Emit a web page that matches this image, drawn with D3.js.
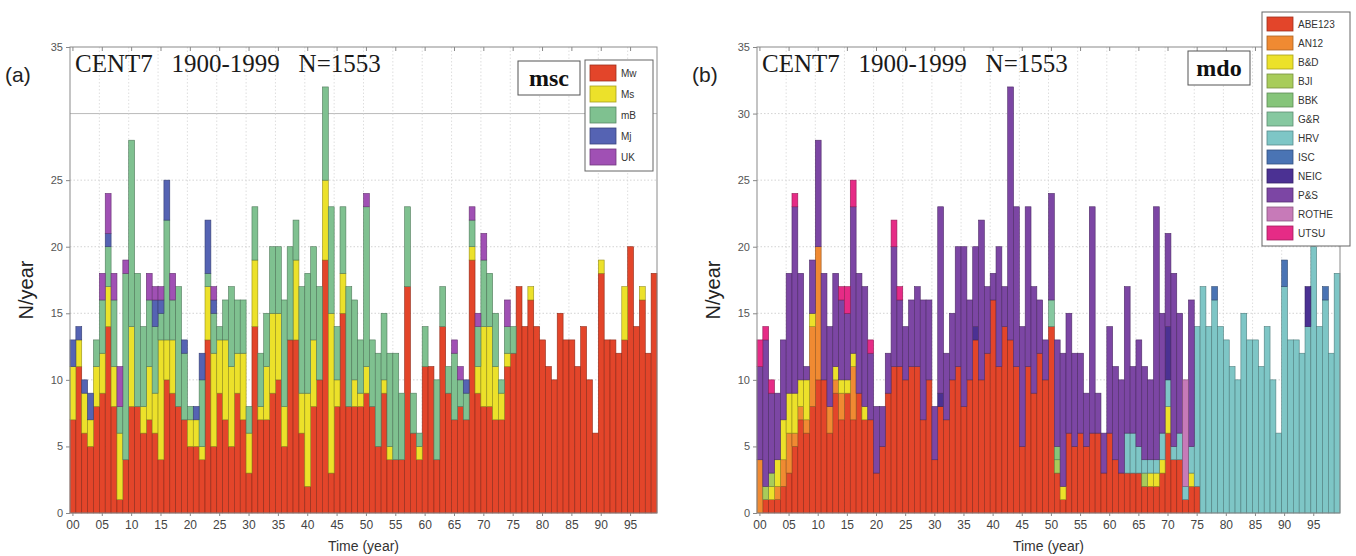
<!DOCTYPE html>
<html><head><meta charset="utf-8">
<script src="https://cdn.jsdelivr.net/npm/d3@7"></script>
<style>body{margin:0;background:#fff}svg{display:block}</style>
</head><body>
<svg id="chart" width="1356" height="556"></svg>
<script>
const years = d3.range(0, 100);
const xTickYears = [0,5,10,15,20,25,30,35,40,45,50,55,60,65,70,75,80,85,90,95];
const yTicksA = [0,5,10,15,20,25,35];
const yTicksB = [0,5,10,15,20,25,30,35];

// Panel (a) msc
const Mw = [7,11,6,5,8,9,14,8,1,4, 8,8,6,7,6,4,10,9,8,7, 5,5,4,13,5,9,7,5,9,7, 3,14,7,7,9,10,5,13,13,6, 2,8,10,19,3,8,15,8,8,8, 9,8,5,9,4,4,4,17,6,4, 11,11,4,14,9,7,8,7,19,9, 8,8,7,7,11,12,17,14,16,14, 13,11,10,15,13,13,11,14,10,6, 18,13,13,12,13,20,14,16,12,18];
const Ms = [4,2,3,2,3,3,3,3,5,0, 6,0,2,4,3,9,3,4,0,0, 2,2,1,4,7,4,6,6,3,5, 3,5,1,4,6,5,3,0,6,3, 7,5,0,6,12,2,3,0,2,1, 2,0,0,1,1,0,0,0,0,1, 0,0,0,0,0,0,0,0,1,2, 6,6,4,2,1,0,0,0,1,0, 0,0,0,0,0,0,0,0,0,0, 1,0,0,0,4,0,0,1,0,0];
const mB = [0,0,0,0,2,4,3,5,2,14, 14,10,6,5,5,2,9,3,9,5, 1,0,5,1,3,1,3,6,4,4, 2,4,4,4,5,5,8,7,3,8, 9,7,7,7,8,4,5,9,6,4, 12,5,7,5,7,8,5,6,3,1, 3,0,6,3,2,5,2,2,2,3, 5,4,4,1,2,2,0,0,0,0, 0,0,0,0,0,0,0,0,0,0, 0,0,0,0,0,0,0,0,0,0];
const Mj = [2,1,1,2,0,0,1,0,0,0, 0,0,0,0,2,1,3,0,0,1, 0,1,2,4,1,0,0,0,0,0, 0,0,0,0,0,0,0,0,0,0, 0,0,0,0,0,0,0,0,0,0, 0,0,0,0,0,0,0,0,0,0, 0,0,0,0,0,0,0,1,0,0, 0,0,0,0,0,0,0,0,0,0, 0,0,0,0,0,0,0,0,0,0, 0,0,0,0,0,0,0,0,0,0];
const UK = [0,0,0,0,0,2,3,2,3,1, 0,0,0,2,1,1,0,2,0,0, 0,0,0,0,1,0,0,0,0,0, 0,0,0,0,0,0,0,0,0,0, 0,0,0,0,0,0,0,0,0,0, 1,0,0,0,0,0,0,0,0,0, 0,0,0,0,0,1,1,0,1,1, 2,0,0,0,2,0,0,0,0,0, 0,0,0,0,0,0,0,0,0,0, 0,0,0,0,0,0,0,0,0,0];

// Panel (b) mdo
const ABE123 = [0,1,1,1,2,3,5,7,6,8, 10,10,6,9,7,9,7,9,7,7, 3,5,9,11,11,10,11,11,7,10, 4,8,7,10,11,8,10,13,10,12, 16,11,14,13,11,5,11,9,12,10, 14,3,1,6,5,6,5,6,6,3, 6,4,3,3,3,3,2,2,2,3, 6,4,4,1,2,2,0,0,0,0, 0,0,0,0,0,0,0,0,0,0, 0,0,0,0,0,0,0,0,0,0];
const AN12 = [4,0,0,1,2,3,1,1,1,6, 10,0,2,1,2,0,4,0,0,0, 0,0,0,0,0,0,0,0,0,0, 0,0,0,0,0,0,0,0,0,0, 0,0,0,0,0,0,0,0,0,0, 0,0,0,0,0,0,0,0,0,0, 0,0,0,0,0,0,0,0,0,0, 0,0,0,0,0,0,0,0,0,0, 0,0,0,0,0,0,0,0,0,0, 0,0,0,0,0,0,0,0,0,0];
const BD = [0,0,1,2,3,3,3,2,3,1, 0,0,0,1,1,1,1,0,1,0, 0,0,0,0,0,0,0,0,0,0, 0,0,0,0,0,0,0,0,0,0, 0,0,0,0,0,0,0,0,0,0, 0,0,1,0,0,0,0,0,0,0, 0,0,0,0,0,0,0,1,1,1, 2,0,0,0,1,0,0,0,0,0, 0,0,0,0,0,0,0,0,0,0, 0,0,0,0,0,0,0,0,0,0];
const BJI = [0,1,1,0,0,0,0,0,0,0, 0,0,0,0,0,0,0,0,0,0, 0,0,0,0,0,0,0,0,0,0, 0,0,0,0,0,0,0,0,0,0, 0,0,0,0,0,0,0,0,0,0, 0,1,0,0,0,0,0,0,0,0, 0,0,0,0,0,0,1,0,0,0, 0,0,0,0,0,0,0,0,0,0, 0,0,0,0,0,0,0,0,0,0, 0,0,0,0,0,0,0,0,0,0];
const BBK = [0,0,0,0,0,0,0,0,0,0, 0,0,0,0,0,0,0,0,0,0, 0,0,0,0,0,0,0,0,0,0, 0,0,0,0,0,0,0,0,0,0, 0,0,0,0,0,0,0,0,0,0, 0,1,0,0,0,0,0,0,0,0, 0,0,0,0,0,0,0,0,0,0, 0,0,0,0,0,0,0,0,0,0, 0,0,0,0,0,0,0,0,0,0, 0,0,0,0,0,0,0,0,0,0];
const GR = [0,0,0,0,0,0,0,0,0,0, 0,0,0,0,0,0,0,0,0,0, 0,0,0,0,0,0,0,0,0,0, 0,0,0,0,0,0,0,0,0,0, 0,0,0,0,0,0,0,0,0,0, 2,0,0,0,0,0,0,0,0,0, 0,0,0,0,0,0,0,0,0,0, 0,0,0,0,0,0,0,0,0,0, 0,0,0,0,0,0,0,0,0,0, 0,0,0,0,0,0,0,0,0,0];
const HRV = [0,0,0,0,0,0,0,0,0,0, 0,0,0,0,0,0,0,0,0,0, 0,0,0,0,0,0,0,0,0,0, 0,0,0,0,0,0,0,0,0,0, 0,0,0,0,0,0,0,0,0,0, 0,0,0,0,0,0,0,0,0,0, 0,0,0,3,3,2,1,1,1,2, 2,1,2,1,2,12,17,14,16,14, 13,11,10,15,13,13,11,14,10,6, 17,13,13,12,14,20,14,16,12,18];
const ISC = [0,0,0,0,0,0,0,0,0,0, 0,0,0,0,0,0,0,0,0,0, 0,0,0,0,0,0,0,0,0,0, 0,0,0,0,0,0,0,0,0,0, 0,0,0,0,0,0,0,0,0,0, 0,0,0,0,0,0,0,0,0,0, 0,0,0,0,0,0,0,0,0,0, 0,0,0,0,0,0,0,0,1,0, 0,0,0,0,0,0,0,0,0,0, 2,0,0,0,0,0,0,1,0,0];
const NEIC = [0,0,0,0,0,0,0,0,0,0, 0,0,0,0,0,0,0,0,0,0, 0,0,0,0,0,0,0,0,0,0, 0,1,0,0,0,0,0,1,0,0, 0,0,0,0,0,0,0,0,0,0, 0,0,0,0,0,0,0,0,0,0, 0,0,0,0,0,0,0,0,0,0, 4,0,0,0,0,0,0,0,0,0, 0,0,0,0,0,0,0,0,0,0, 0,0,0,0,3,0,0,0,0,0];
const PS = [7,11,6,5,6,9,14,8,1,4, 8,8,6,7,6,5,11,9,9,5, 5,3,3,9,5,4,5,6,9,6, 4,14,5,5,9,12,6,6,12,5, 2,9,3,19,12,9,12,8,4,3, 8,8,10,9,7,6,4,17,3,3, 8,7,7,11,5,8,7,6,19,9, 7,13,9,0,11,0,0,0,0,0, 0,0,0,0,0,0,0,0,0,0, 0,0,0,0,0,0,0,0,0,0];
const ROTHE = [0,0,0,0,0,0,0,0,0,0, 0,0,0,0,0,0,0,0,0,0, 0,0,0,0,0,0,0,0,0,0, 0,0,0,0,0,0,0,0,0,0, 0,0,0,0,0,0,0,0,0,0, 0,0,0,0,0,0,0,0,0,0, 0,0,0,0,0,0,0,0,0,0, 0,0,0,8,0,0,0,0,0,0, 0,0,0,0,0,0,0,0,0,0, 0,0,0,0,0,0,0,0,0,0];
const UTSU = [2,1,1,0,0,0,1,0,0,0, 0,0,0,0,1,2,2,0,0,1, 0,0,0,2,1,0,0,0,0,0, 0,0,0,0,0,0,0,0,0,0, 0,0,0,0,0,0,0,0,0,0, 0,0,0,0,0,0,0,0,0,0, 0,0,0,0,0,0,0,0,0,0, 0,0,0,0,0,0,0,0,0,0, 0,0,0,0,0,0,0,0,0,0, 0,0,0,0,0,0,0,0,0,0];

const seriesA = [
  {key:"Mw", vals:Mw, color:"#e3452a"},
  {key:"Ms", vals:Ms, color:"#ece12a"},
  {key:"mB", vals:mB, color:"#7fc190"},
  {key:"Mj", vals:Mj, color:"#5563b3"},
  {key:"UK", vals:UK, color:"#a050b4"}
];
const seriesB = [
  {key:"ABE123", vals:ABE123, color:"#e3452a"},
  {key:"AN12", vals:AN12, color:"#f08a32"},
  {key:"B&D", vals:BD, color:"#ece12a"},
  {key:"BJI", vals:BJI, color:"#a8cc5a"},
  {key:"BBK", vals:BBK, color:"#86c57a"},
  {key:"G&R", vals:GR, color:"#86c8a0"},
  {key:"HRV", vals:HRV, color:"#7ec6c6"},
  {key:"ISC", vals:ISC, color:"#4a74b4"},
  {key:"NEIC", vals:NEIC, color:"#4b3193"},
  {key:"P&S", vals:PS, color:"#7c46a4"},
  {key:"ROTHE", vals:ROTHE, color:"#c77ab8"},
  {key:"UTSU", vals:UTSU, color:"#e62b86"}
];

const svg = d3.select("#chart");
const H_TOP = 47, H_BOT = 513;

function panel(opts) {
  const {left, right, series, yTicks, tag, boxText, legend} = opts;
  const g = svg.append("g");
  const x = d3.scaleBand().domain(years).range([left, right]).paddingInner(0).paddingOuter(0);
  const y = d3.scaleLinear().domain([0, 35]).range([H_BOT, H_TOP]);

  // grid
  g.append("g").selectAll("line").data([5,10,15,20,25,30]).join("line")
    .attr("x1", left).attr("x2", right).attr("y1", d=>y(d)).attr("y2", d=>y(d))
    .attr("stroke", d => d===30 && tag==="(a)" ? "#aaa" : "#c8c8c8")
    .attr("stroke-dasharray", d => d===30 && tag==="(a)" ? null : "1.5,2")
    .attr("stroke-width", 0.8);
  g.append("g").selectAll("line").data(xTickYears.slice(1)).join("line")
    .attr("x1", d=>x(d)).attr("x2", d=>x(d)).attr("y1", H_TOP).attr("y2", H_BOT)
    .attr("stroke", "#d6d6d6").attr("stroke-dasharray", "1.5,2").attr("stroke-width", 0.8);

  // stacked bars
  const rows = years.map(yr => {
    const r = {year: yr};
    series.forEach(s => r[s.key] = s.vals[yr]);
    return r;
  });
  const stack = d3.stack().keys(series.map(s=>s.key))(rows);
  stack.forEach((layer, i) => {
    const col = series[i].color;
    g.append("g").selectAll("rect").data(layer.filter(d => d[1] > d[0])).join("rect")
      .attr("x", d => x(d.data.year))
      .attr("width", x.bandwidth())
      .attr("y", d => y(d[1]))
      .attr("height", d => y(d[0]) - y(d[1]))
      .attr("fill", col)
      .attr("stroke", d3.color(col).darker(1.3))
      .attr("stroke-width", 0.6);
  });

  // frame
  g.append("rect").attr("x", left).attr("y", H_TOP).attr("width", right-left).attr("height", H_BOT-H_TOP)
    .attr("fill", "none").attr("stroke", "#8a8a8a").attr("stroke-width", 1);

  // top ticks
  g.append("g").selectAll("line").data(xTickYears).join("line")
    .attr("x1", d=>x(d)+x.bandwidth()/2).attr("x2", d=>x(d)+x.bandwidth()/2)
    .attr("y1", H_TOP).attr("y2", H_TOP+4).attr("stroke", "#888");

  // axes
  const xAxis = d3.axisBottom(x).tickValues(xTickYears)
    .tickFormat(d => String(d).padStart(2, "0")).tickSize(3).tickPadding(4);
  const ax = g.append("g").attr("transform", `translate(0,${H_BOT})`).call(xAxis);
  ax.select(".domain").remove();
  ax.selectAll("line").attr("stroke", "#888");
  ax.selectAll("text").attr("font-family", "'Liberation Sans', Arial, sans-serif")
    .attr("font-size", 12).attr("fill", "#444");

  const yAxis = d3.axisLeft(y).tickValues(yTicks).tickSize(4).tickPadding(3);
  const ay = g.append("g").attr("transform", `translate(${left},0)`).call(yAxis);
  ay.select(".domain").remove();
  ay.selectAll("line").attr("stroke", "#888");
  ay.selectAll("text").attr("font-family", "'Liberation Sans', Arial, sans-serif")
    .attr("font-size", 11).attr("fill", "#555");

  // labels
  svg.append("text").attr("x", left - 65).attr("y", 82).text(tag)
    .attr("font-family", "'Liberation Sans', Arial, sans-serif").attr("font-size", 21).attr("fill", "#222");
  svg.append("text").attr("transform", `translate(${left-37},${(H_TOP+H_BOT)/2 + 10}) rotate(-90)`)
    .attr("text-anchor", "middle").text("N/year")
    .attr("font-family", "'Liberation Sans', Arial, sans-serif").attr("font-size", 20).attr("fill", "#222");
  svg.append("text").attr("x", (left+right)/2).attr("y", 551).attr("text-anchor", "middle").text("Time (year)")
    .attr("font-family", "'Liberation Sans', Arial, sans-serif").attr("font-size", 14).attr("fill", "#333");
  svg.append("text").attr("x", left + 5).attr("y", 72).style("white-space", "pre")
    .text("CENT7   1900-1999   N=1553")
    .attr("font-family", "'Liberation Serif', 'Times New Roman', serif").attr("font-size", 25).attr("fill", "#1a1a1a");

  // box label
  const bx = opts.boxX, byy = opts.boxY;
  svg.append("rect").attr("x", bx).attr("y", byy).attr("width", 62).attr("height", 34)
    .attr("fill", "#fff").attr("stroke", "#555").attr("stroke-width", 1);
  svg.append("text").attr("x", bx + 31).attr("y", byy + 25).attr("text-anchor", "middle").text(boxText)
    .attr("font-family", "'Liberation Serif', 'Times New Roman', serif").attr("font-weight", "bold")
    .attr("font-size", 24).attr("fill", "#111");

  // legend
  const L = legend;
  svg.append("rect").attr("x", L.x).attr("y", L.y).attr("width", L.w).attr("height", L.step*series.length + 6)
    .attr("fill", "#fff").attr("stroke", "#666").attr("stroke-width", 1);
  const li = svg.append("g").selectAll("g").data(series).join("g")
    .attr("transform", (d,i) => `translate(${L.x+5},${L.y+5+i*L.step})`);
  li.append("rect").attr("width", 26).attr("height", L.step-5).attr("fill", d=>d.color)
    .attr("stroke", d=>d3.color(d.color).darker(1)).attr("stroke-width", 0.8);
  li.append("text").attr("x", 31).attr("y", (L.step-5)/2 + 4).text(d=>d.key)
    .attr("font-family", "'Liberation Sans', Arial, sans-serif").attr("font-size", 10).attr("fill", "#333");
}

panel({left:70, right:657, series:seriesA, yTicks:yTicksA, tag:"(a)", boxText:"msc",
  boxX:518, boxY:61, legend:{x:585, y:60, w:68, step:21}});
panel({left:757, right:1340, series:seriesB, yTicks:yTicksB, tag:"(b)", boxText:"mdo",
  boxX:1188, boxY:51, legend:{x:1262, y:12, w:88, step:19}});
</script>
</body></html>
